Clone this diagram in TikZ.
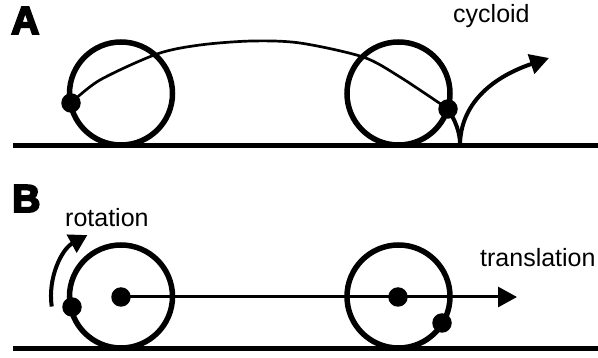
\documentclass[tikz,border=0pt]{standalone}
\usepackage{fontspec}
\setmainfont{Liberation Sans}
\newfontfamily\heavyfont[BoldFeatures={FakeBold=5}]{Liberation Sans}
\usetikzlibrary{arrows.meta,backgrounds,calc}
\begin{document}
\begin{tikzpicture}[x=1pt,y=-1pt,
  groundline/.style={line width=5.5pt},
  wheel/.style={draw, circle, line width=5.5pt, minimum size=103pt, inner sep=0pt},
  dot/.style={fill, circle, minimum size=19.5pt, inner sep=0pt},
  panellabel/.style={anchor=base west, inner sep=0pt, font=\heavyfont\bfseries\fontsize{39}{40}\selectfont},
  caption/.style={anchor=base west, inner sep=0pt, font=\fontsize{25}{28}\selectfont},
  bigtip/.style={-{Triangle[length=19pt,width=20pt]}}
]
\useasboundingbox (0,0) rectangle (598,358);

% ---------- Panel A ----------
\node[panellabel] (labA) at (11,34) {A};
\coordinate (gA1) at (13,145.3);
\coordinate (gA2) at (598,145.3);
\node[wheel] (wA1) at (121,93.5) {};
\node[wheel] (wA2) at (398.5,93.5) {};
\node[dot] (pA1) at (71,103) {};
\node[dot] (pA2) at (448,109) {};
\coordinate (cusp) at (460,144);
\coordinate (tipA) at (549,58);
\node[caption] (cyc) at (453,22.5) {cycloid};

% ---------- Panel B ----------
\node[panellabel] (labB) at (12,212) {B};
\coordinate (gB1) at (13,348.3);
\coordinate (gB2) at (598,348.3);
\node[wheel] (wB1) at (121,296.5) {};
\node[wheel] (wB2) at (398.5,296.5) {};
\node[dot] (cB1) at (121,297) {};
\node[dot] (cB2) at (398,297) {};
\node[dot] (pB1) at (72,307) {};
\node[dot] (pB2) at (442,323) {};
\coordinate (tipB) at (517,297);
\node[caption] (rot) at (65,226.7) {rotation};
\node[caption] (trans) at (480,266.7) {translation};

\begin{scope}[on background layer]
  \draw[groundline] (gA1) -- (gA2);
  \draw[groundline] (gB1) -- (gB2);
  % cycloid
  \draw[line width=2.7pt] plot[smooth] coordinates {(pA1.center) (100,80) (157,54) (200,45) (252,41) (300,43) (363,57) (400,77) (pA2.center)};
  \draw[line width=4pt] (pA2.center) .. controls (455,120) and (460,132) .. (cusp);
  \draw[line width=4pt, bigtip] (cusp) .. controls (461,105) and (490,78) .. (tipA);
  % rotation arrow
  \draw[line width=4pt, -{Triangle[length=18pt,width=20pt]}] ($(wB1.center)+(171.75:70)$) arc[start angle=171.75, end angle=241.3, radius=70];
  % translation arrow
  \draw[line width=3pt, bigtip] (cB1.center) -- (tipB);
\end{scope}
\end{tikzpicture}
\end{document}
